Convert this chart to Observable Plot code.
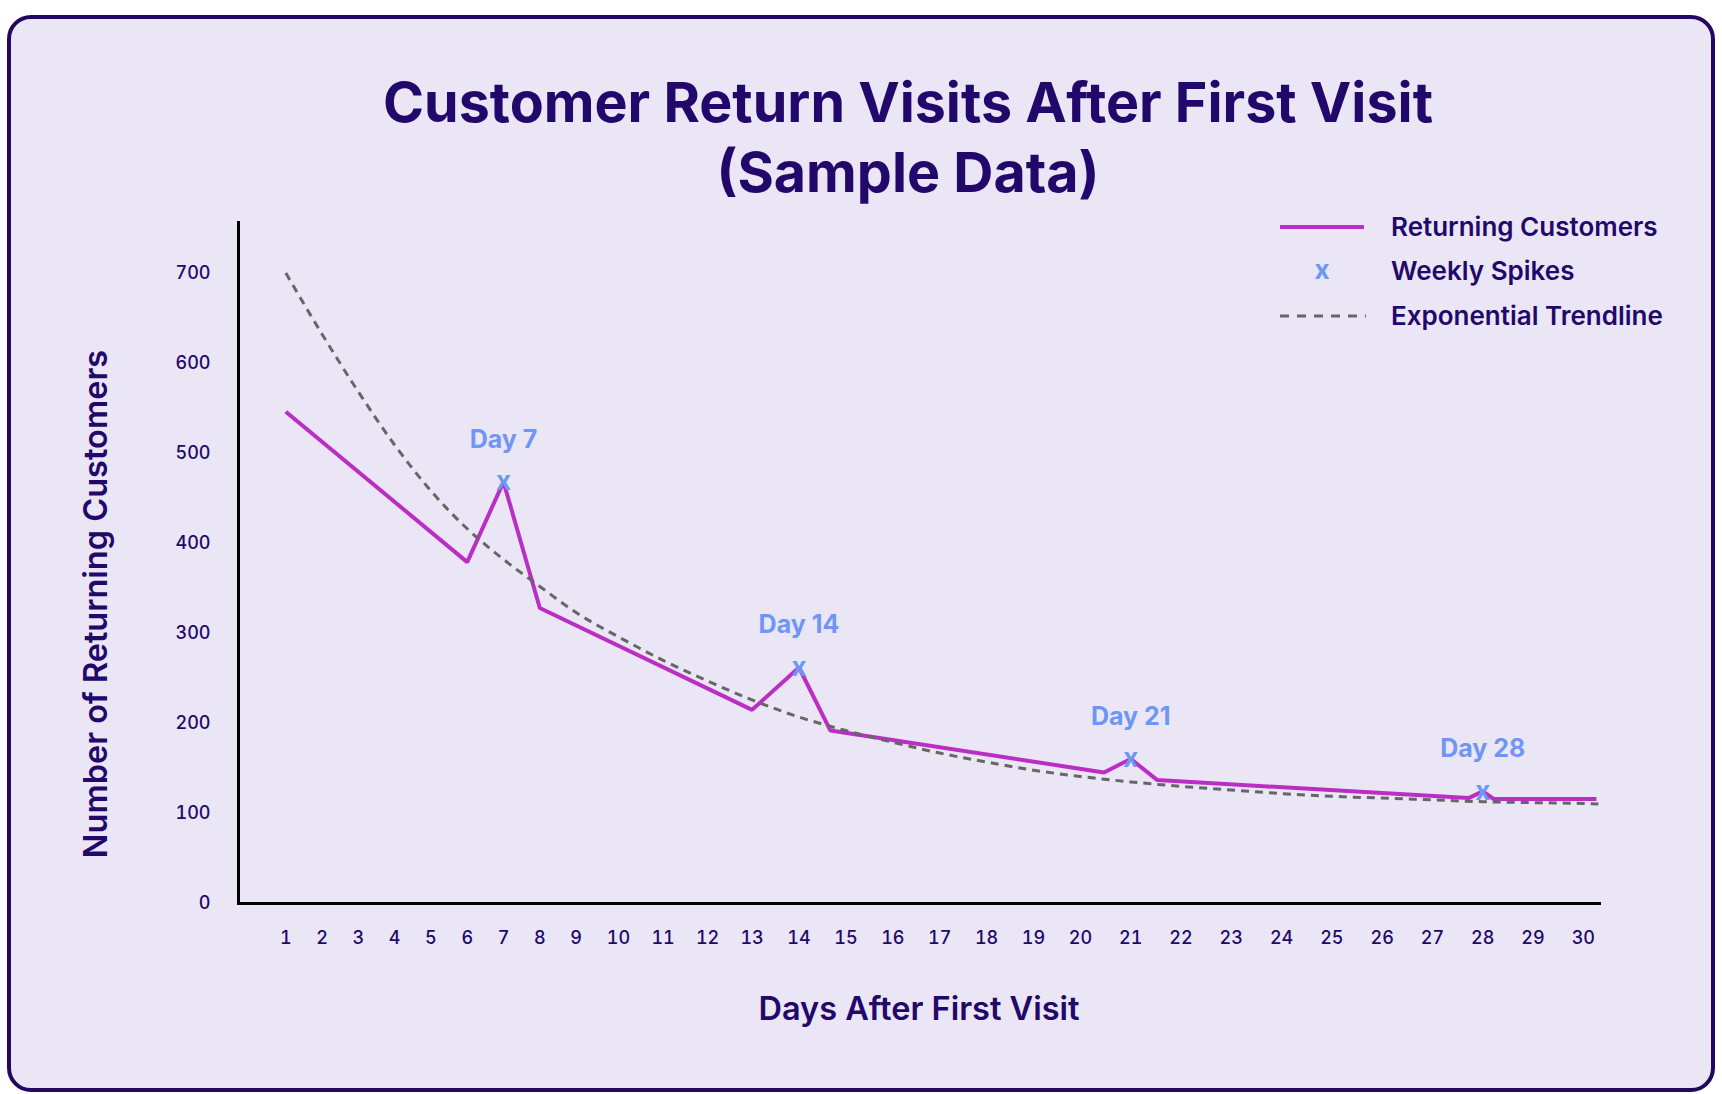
<!DOCTYPE html>
<html>
<head>
<meta charset="utf-8">
<script src="https://cdn.jsdelivr.net/npm/d3@7"></script>
<script src="https://cdn.jsdelivr.net/npm/@observablehq/plot@0.6"></script>
<style>
html, body { margin: 0; padding: 0; background: #ffffff; width: 1722px; height: 1094px; overflow: hidden; font-family: Inter, sans-serif; }
#card { position: absolute; left: 7px; top: 15px; width: 1708px; height: 1077px; box-sizing: border-box; border: 4px solid #24085f; border-radius: 24px; background: #eae6f5; }
#chart { position: absolute; left: 0; top: 0; }
#title { position: absolute; left: 0; width: 1816px; top: 67px; text-align: center; font-size: 55.6px; font-weight: 700; line-height: 70px; color: #23086b; }
.legtext { position: absolute; left: 1391px; font-size: 26px; font-weight: 600; color: #23086b; line-height: 30px; white-space: nowrap; }
#ylabel { position: absolute; left: 95.5px; top: 604px; transform: translate(-50%, -50%) rotate(-90deg); font-size: 32.5px; font-weight: 600; color: #23086b; white-space: nowrap; line-height: 40px; }
#legsw { position: absolute; left: 0; top: 0; }
</style>
</head>
<body>
<div id="card"></div>
<div id="chart"></div>
<div id="title">Customer Return Visits After First Visit<br>(Sample Data)</div>
<div id="ylabel">Number of Returning Customers</div>
<svg id="legsw" width="1722" height="1094"></svg>
<div id="legend"></div>
<script>
// ---- data ----
const dayTicks = [1,2,3,4,5,6,7,8,9,10,11,12,13,14,15,16,17,18,19,20,21,22,23,24,25,26,27,28,29,30];
const yTicks = [0,100,200,300,400,500,600,700];

const returnDays      = [1,   6,   7,   8,   13,  14,  14.67, 20.47, 21,    21.53, 27.72, 28,    28.22, 30.26];
const returnCustomers = [546, 379, 468, 328, 215, 262, 192,   145.5, 160.5, 137,   117,   124.5, 116,   116];

const spikeDays      = [7, 14, 21, 28];
const spikeCustomers = [468, 262, 160.5, 124.5];

const trendDays      = [1,2,3,4,5,6,7,8,9,10,11,12,13,14,15,16,17,18,19,20,21,22,23,24,25,26,27,28,29,30,30.3];
const trendCustomers = [700,632,568,509,458,416,382,352,323,296,270,247,226,207,192,179,167,157,148,141,135,130,126,122,119,117,115,113,112,111,110.5];

const seriesNames = ["Returning Customers", "Weekly Spikes", "Exponential Trendline"];
const xTitle = "Days After First Visit";

// ---- tables for the library ----
const returning = returnDays.map((d, i) => ({day: d, value: returnCustomers[i]}));
const spikes = spikeDays.map((d, i) => ({day: d, value: spikeCustomers[i]}));
const trend = trendDays.map((d, i) => ({day: d, value: trendCustomers[i]}));

const ink = "#23086b";
const lineColor = "#bb2ec4";
const spikeColor = "#6f96f5";
const trendColor = "#666666";

const chart = Plot.plot({
  width: 1722,
  height: 1094,
  marginLeft: 238,
  marginRight: 123,
  marginTop: 222,
  marginBottom: 191,
  x: {type: "linear", domain: [1, 9, 10, 13, 20, 30], range: [285.3, 575.6, 618, 751.6, 1079.9, 1582.8]},
  y: {type: "linear", domain: [0, 756]},
  style: {background: "transparent", color: ink, fontFamily: "Inter, sans-serif", overflow: "visible"},
  marks: [
    Plot.axisX({ticks: dayTicks, tickSize: 0, tickPadding: 28, fontSize: 18, fontWeight: 500, tickFormat: d => String(d), label: null}),
    Plot.axisY({ticks: yTicks, tickSize: 0, tickPadding: 28, fontSize: 18, fontWeight: 500, tickFormat: d => String(d), label: null}),
    Plot.line(returning, {x: "day", y: "value", stroke: lineColor, strokeWidth: 4, strokeLinejoin: "miter", strokeLinecap: "butt"}),
    Plot.line(trend, {x: "day", y: "value", stroke: trendColor, strokeWidth: 3, strokeDasharray: "8,6", curve: "monotone-x", strokeLinecap: "butt"}),
    Plot.text(spikes, {x: "day", y: "value", text: () => "x", fill: spikeColor, fontSize: 26, fontWeight: 700}),
    Plot.text(spikes, {x: "day", y: "value", text: d => "Day " + d.day, dy: -42, fill: spikeColor, fontSize: 25, fontWeight: 700}),
    Plot.frame({anchor: "left", stroke: "#000", strokeWidth: 3}),
    Plot.frame({anchor: "bottom", stroke: "#000", strokeWidth: 3}),
    Plot.text([xTitle], {frameAnchor: "bottom", dy: 116, fontSize: 32.5, fontWeight: 600, fill: ink})
  ]
});
document.getElementById("chart").appendChild(chart);

// ---- legend ----
const legSvg = d3.select("#legsw");
legSvg.append("line").attr("x1", 1280).attr("x2", 1364).attr("y1", 227).attr("y2", 227)
  .attr("stroke", lineColor).attr("stroke-width", 4);
legSvg.append("text").attr("x", 1322).attr("y", 271).attr("dy", "0.32em").attr("text-anchor", "middle")
  .attr("fill", spikeColor).attr("font-size", 26).attr("font-weight", 700).attr("font-family", "Inter, sans-serif").text("x");
legSvg.append("line").attr("x1", 1280).attr("x2", 1366).attr("y1", 316).attr("y2", 316)
  .attr("stroke", trendColor).attr("stroke-width", 3).attr("stroke-dasharray", "9,8");
const legRowsY = [227, 271, 316];
const legend = document.getElementById("legend");
seriesNames.forEach((name, i) => {
  const el = document.createElement("div");
  el.className = "legtext";
  el.style.top = (legRowsY[i] - 15) + "px";
  el.textContent = name;
  legend.appendChild(el);
});
</script>
</body>
</html>
